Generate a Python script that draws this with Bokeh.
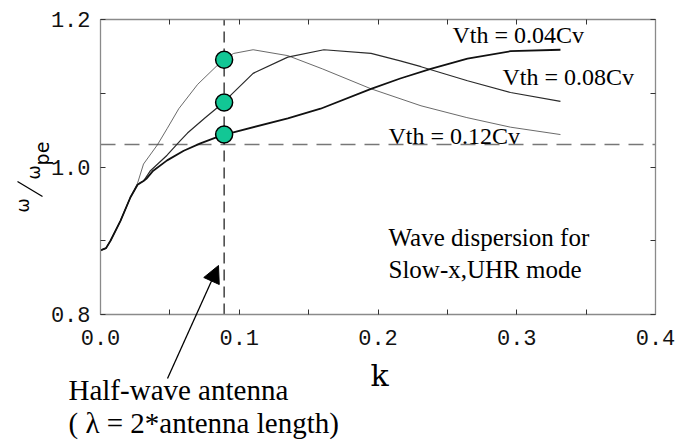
import math
from bokeh.plotting import figure
from bokeh.models import (Label, Arrow, NormalHead, LinearAxis, FixedTicker, Range1d)
from bokeh.core.properties import value
from bokeh.embed import file_html
from bokeh.resources import INLINE

# ---------------- data ----------------
k_012 = [0, 0.004, 0.0072, 0.0144, 0.0216, 0.0267, 0.031, 0.041, 0.048, 0.0564, 0.07, 0.0887,
         0.096, 0.110, 0.135, 0.16, 0.195, 0.231, 0.264, 0.2955, 0.3315]
w_012 = [0.887, 0.890, 0.900, 0.927, 0.959, 0.978, 1.004, 1.030, 1.052, 1.079, 1.112, 1.146,
         1.154, 1.159, 1.151, 1.133, 1.106, 1.083, 1.067, 1.054, 1.044]

k_008 = [0, 0.004, 0.0072, 0.0144, 0.0216, 0.0267, 0.0288, 0.031, 0.036, 0.048, 0.0577, 0.0627,
         0.075, 0.0887, 0.0915, 0.110, 0.135, 0.161, 0.195, 0.216, 0.231, 0.2645, 0.2955, 0.3315]
w_008 = [0.887, 0.890, 0.900, 0.927, 0.959, 0.976, 0.979, 0.981, 0.995, 1.016, 1.036, 1.046,
         1.066, 1.0875, 1.093, 1.127, 1.149, 1.159, 1.154, 1.144, 1.136, 1.117, 1.101, 1.089]

k_004 = [0, 0.004, 0.0072, 0.0144, 0.0216, 0.0267, 0.031, 0.033, 0.038, 0.048, 0.060, 0.072,
         0.0887, 0.0937, 0.135, 0.1586, 0.195, 0.216, 0.238, 0.2645, 0.2955, 0.3315]
w_004 = [0.887, 0.890, 0.900, 0.927, 0.959, 0.976, 0.981, 0.984, 0.995, 1.009, 1.022, 1.032,
         1.044, 1.046, 1.066, 1.079, 1.106, 1.120, 1.133, 1.147, 1.157, 1.159]

k_antenna = 0.0891
w_reference = 1.0305
marker_k = [0.0891, 0.0891, 0.0891]
marker_w = [1.1455, 1.0875, 1.044]

k_min, k_max = 0.0, 0.4
w_min, w_max = 0.8, 1.2
x_ticks = [0.0, 0.05, 0.1, 0.15, 0.2, 0.25, 0.3, 0.35, 0.4]
y_ticks = [0.8, 0.9, 1.0, 1.1, 1.2]
x_labels = {0.0: "0.0", 0.1: "0.1", 0.2: "0.2", 0.3: "0.3", 0.4: "0.4"}
y_labels = {0.8: "0.8", 1.0: "1.0", 1.2: "1.2"}

# ---------------- figure ----------------
W, H = 690, 443
box_l, box_r, box_t, box_b = 100, 655, 19, 314
sx = (k_max - k_min) / (box_r - box_l)
sy = (w_max - w_min) / (box_b - box_t)

def px(x, y):
    return k_min + (x - box_l) * sx, w_max - (y - box_t) * sy

x0, y1 = px(0, 0)
x1, y0 = px(W, H)

p = figure(width=W, height=H, output_backend="svg", toolbar_location=None,
           x_range=Range1d(x0, x1), y_range=Range1d(y0, y1),
           min_border=0, min_border_left=0, min_border_right=0,
           min_border_top=0, min_border_bottom=0,
           x_axis_location=None, y_axis_location=None)
p.grid.visible = False
p.outline_line_color = None
p.background_fill_color = "white"
p.border_fill_color = "white"

mono = "Liberation Mono"

def make_axis(loc, labels_on, ticks, overrides, bounds):
    ax = LinearAxis(ticker=FixedTicker(ticks=ticks), fixed_location=loc, bounds=bounds)
    ax.axis_line_color = "#8a8a8a"
    ax.axis_line_width = 1.3
    ax.major_tick_line_color = "#333333"
    ax.major_tick_in = 5
    ax.major_tick_out = 0
    ax.minor_tick_line_color = None
    ax.major_label_text_font = mono
    ax.major_label_text_font_size = "22px"
    ax.major_label_text_color = "#111111"
    if labels_on:
        ov = {}
        for t in ticks:
            ov[t] = overrides.get(round(t, 2), "")
        ax.major_label_overrides = ov
    else:
        ax.major_label_text_font_size = "0px"
        ax.major_label_text_color = None
    return ax

bx = make_axis(w_min, True, x_ticks, x_labels, (k_min, k_max))
bx.major_label_standoff = 15
p.add_layout(bx, "below")
tx = make_axis(w_max, False, x_ticks, {}, (k_min, k_max))
p.add_layout(tx, "above")
ly = make_axis(k_min, True, y_ticks, y_labels, (w_min, w_max))
ly.major_label_standoff = 10
p.add_layout(ly, "left")
ry = make_axis(k_max, False, y_ticks, {}, (w_min, w_max))
p.add_layout(ry, "right")

# reference lines
p.line([k_min, k_max], [w_reference, w_reference], line_color="#777777",
       line_dash="15 9", line_width=1.3)
p.line([k_antenna, k_antenna], [w_min, w_max], line_color="#111111",
       line_dash="11 6", line_width=1.2)

# curves
p.line(k_012, w_012, line_color="#444444", line_width=0.8)
p.line(k_008, w_008, line_color="#2a2a2a", line_width=1.2)
p.line(k_004, w_004, line_color="#111111", line_width=1.8)

p.scatter(marker_k, marker_w, size=17, fill_color="#12C795", line_color="black", line_width=1.5)

def lab(xy, text, size, font="Liberation Serif", **kw):
    x, y = px(*xy)
    p.add_layout(Label(x=x, y=y, text=text, text_font=font, text_font_size=size,
                       text_color="black", **kw))

def gtext(xy, text, size, font="Liberation Serif", align="left"):
    # xy = (left/center x, baseline y) in pixels; anchor at text bottom (baseline + descent)
    fs = float(size.replace("px", ""))
    x, y = px(xy[0], xy[1] + 0.22 * fs)
    p.text(x=[x], y=[y], text=[text], text_font=value(font), text_font_size=value(size),
           text_color="black", text_align=align, text_baseline="bottom")

def gtext_alpha(xy, text, size, font="Liberation Serif", align="left"):
    fs = float(size.replace("px", ""))
    x, y = px(xy[0], xy[1] - 0.42 * fs)
    p.text(x=[x], y=[y], text=[text], text_font=value(font), text_font_size=value(size),
           text_color="black", text_align=align, text_baseline="alphabetic")

gtext((452, 42), "Vth = 0.04Cv", "24px")
gtext((502, 84), "Vth = 0.08Cv", "24px")
gtext((388, 143), "Vth = 0.12Cv", "24px")
gtext((388, 245), "Wave dispersion for", "25px")
gtext((388, 277), "Slow-x,UHR mode", "25px")
gtext_alpha((68, 402), "Half-wave antenna", "29px")
gtext_alpha((68, 435), "( \u03bb = 2*antenna length)", "29px")
gtext_alpha((379, 388), "k", "30px", font="DejaVu Serif", align="center")

# arrow
ax0, ay0 = px(167, 378)
ax1, ay1 = px(218, 265)
p.add_layout(Arrow(x_start=ax0, y_start=ay0, x_end=ax1, y_end=ay1,
                   line_width=1.3, line_color="black",
                   end=NormalHead(size=17, fill_color="black", line_color="black")))

# y-axis label (rotated omega / omega_pe)
for xy, txt, sz in [((22, 205), "\u03c9", "17px"), ((33, 172), "\u03c9", "17px"),
                    ((41, 153), "pe", "19px")]:
    lab(xy, txt, sz, font="DejaVu Sans", angle=math.pi / 2,
        text_align="center", text_baseline="middle")

s0x, s0y = px(17, 181)
s1x, s1y = px(42, 196)
p.add_layout(Arrow(x_start=s0x, y_start=s0y, x_end=s1x, y_end=s1y, end=None, start=None,
                   line_width=1.3, line_color="black"))

open("out.html", "w").write(file_html(p, INLINE))
